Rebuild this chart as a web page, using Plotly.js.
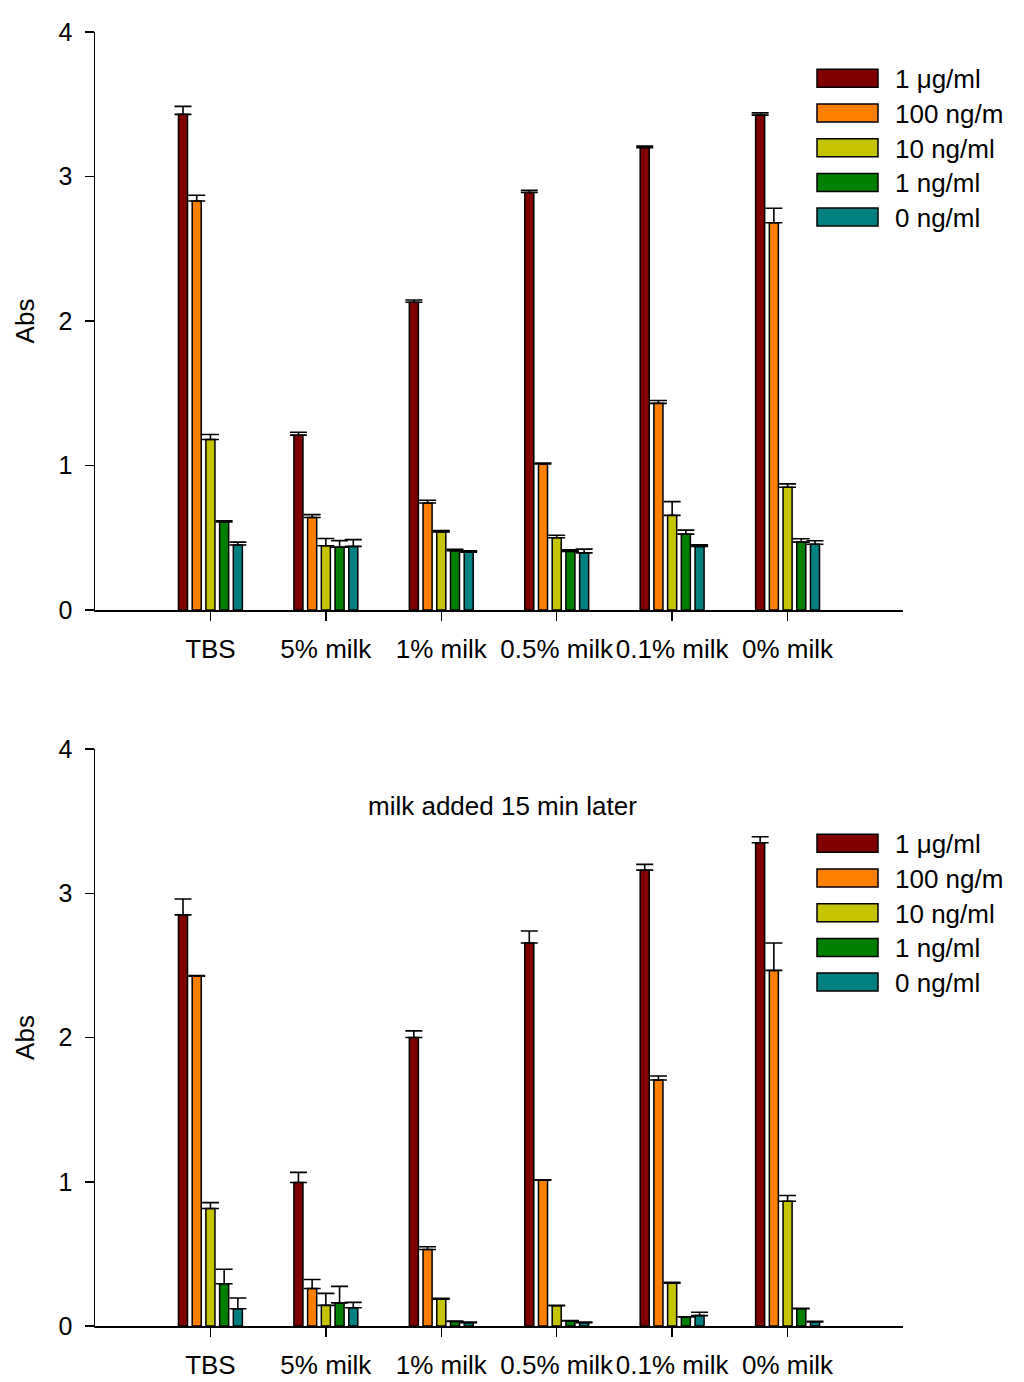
<!DOCTYPE html>
<html>
<head>
<meta charset="utf-8">
<script src="https://cdn.plot.ly/plotly-3.0.1.min.js"></script>
<style>
  html, body { margin: 0; padding: 0; background: #fff; }
  #chart { width: 1024px; height: 1382px; }
</style>
</head>
<body>
<div id="chart"></div>
<script>
// categories and series
const categories = ['TBS', '5% milk', '1% milk', '0.5% milk', '0.1% milk', '0% milk'];
const seriesNames = ['1 \u03bcg/ml', '100 ng/m', '10 ng/ml', '1 ng/ml', '0 ng/ml'];
const seriesColors = ['#800000', '#ff8000', '#c4c400', '#008000', '#008080'];

// top panel: means
const topUg1   = [3.43, 1.21, 2.13, 2.89, 3.20, 3.425];
const topNg100 = [2.83, 0.64, 0.74, 1.01, 1.43, 2.68];
const topNg10  = [1.18, 0.445, 0.54, 0.50, 0.655, 0.85];
const topNg1   = [0.61, 0.435, 0.41, 0.405, 0.525, 0.47];
const topNg0   = [0.45, 0.44, 0.40, 0.395, 0.44, 0.455];
// top panel: errors (upper only)
const topUg1Err   = [0.055, 0.02, 0.015, 0.015, 0.01, 0.015];
const topNg100Err = [0.04, 0.02, 0.02, 0.007, 0.02, 0.10];
const topNg10Err  = [0.035, 0.05, 0.01, 0.017, 0.095, 0.023];
const topNg1Err   = [0.007, 0.045, 0.01, 0.011, 0.028, 0.023];
const topNg0Err   = [0.02, 0.047, 0.009, 0.026, 0.012, 0.024];

// bottom panel: means (milk added 15 min later)
const botUg1   = [2.85, 0.995, 2.00, 2.655, 3.16, 3.35];
const botNg100 = [2.425, 0.26, 0.53, 1.01, 1.705, 2.465];
const botNg10  = [0.815, 0.143, 0.185, 0.141, 0.296, 0.865];
const botNg1   = [0.293, 0.16, 0.032, 0.035, 0.062, 0.12];
const botNg0   = [0.12, 0.127, 0.023, 0.023, 0.072, 0.028];
// bottom panel: errors (upper only)
const botUg1Err   = [0.11, 0.07, 0.046, 0.083, 0.04, 0.042];
const botNg100Err = [0.005, 0.062, 0.019, 0.004, 0.028, 0.19];
const botNg10Err  = [0.04, 0.083, 0.007, 0.002, 0.007, 0.04];
const botNg1Err   = [0.10, 0.115, 0.003, 0.002, 0.002, 0.002];
const botNg0Err   = [0.074, 0.037, 0.005, 0.005, 0.023, 0.004];

const yTicks = [0, 1, 2, 3, 4];

const topMeans = [topUg1, topNg100, topNg10, topNg1, topNg0];
const topErrs = [topUg1Err, topNg100Err, topNg10Err, topNg1Err, topNg0Err];
const botMeans = [botUg1, botNg100, botNg10, botNg1, botNg0];
const botErrs = [botUg1Err, botNg100Err, botNg10Err, botNg1Err, botNg0Err];

const FONT = "'Liberation Sans', Arial, sans-serif";

// plot area in page pixels
const PLOT = { left: 95, right: 903, top: 32, bottom: 1326 };
const W = 1024, H = 1382;
const px2x = px => (px - PLOT.left) / (PLOT.right - PLOT.left);
const px2y = py => (PLOT.bottom - py) / (PLOT.bottom - PLOT.top);

function makeTraces(means, errs, xa, ya) {
    return means.map((vals, i) => ({
        type: 'bar',
        x: categories,
        y: vals,
        name: seriesNames[i],
        xaxis: xa,
        yaxis: ya,
        showlegend: false,
        marker: { color: seriesColors[i], line: { color: '#000', width: 1.5 } },
        error_y: {
            type: 'data',
            symmetric: false,
            array: errs[i],
            arrayminus: errs[i].map(() => 0),
            color: '#000',
            thickness: 1.6,
            width: 8.5
        },
        hovertemplate: '%{x}<br>' + seriesNames[i] + ': %{y}<extra></extra>'
    }));
}

// hand-drawn legend (large swatches like the original)
function legendItems(firstRowPx) {
    const shapes = [], notes = [];
    seriesNames.forEach((name, i) => {
        const cy = firstRowPx + i * 34.7;
        shapes.push({
            type: 'rect', xref: 'paper', yref: 'paper',
            x0: px2x(817), x1: px2x(878),
            y0: px2y(cy - 9), y1: px2y(cy + 9),
            fillcolor: seriesColors[i],
            line: { color: '#000', width: 1.5 }
        });
        notes.push({
            xref: 'paper', yref: 'paper',
            x: px2x(893), y: px2y(cy + 1),
            xanchor: 'left', yanchor: 'middle',
            text: name, showarrow: false,
            font: { family: FONT, size: 26, color: '#000' }
        });
    });
    return { shapes, notes };
}

const xAxisStyle = {
    type: 'category',
    range: [-1, 6],
    showline: true, linecolor: '#000', linewidth: 1.5,
    ticks: 'outside', ticklen: 9, tickwidth: 1.5, tickcolor: '#000',
    showgrid: false, zeroline: false,
    tickangle: 0,
    tickfont: { family: FONT, size: 26, color: '#000' },
    ticklabelstandoff: 6,
    fixedrange: true
};
const yAxisStyle = {
    range: [0, 4],
    tickvals: yTicks,
    showline: true, linecolor: '#000', linewidth: 1.5,
    ticks: 'outside', ticklen: 9, tickwidth: 1.5, tickcolor: '#000',
    showgrid: false, zeroline: false,
    tickfont: { family: FONT, size: 25, color: '#000' },
    ticklabelstandoff: 7,
    title: { text: 'Abs', font: { family: FONT, size: 26, color: '#000' }, standoff: 16 },
    fixedrange: true
};

const topLegend = legendItems(78.3);
const botLegend = legendItems(843.3);

const data = [
    ...makeTraces(topMeans, topErrs, 'x', 'y'),
    ...makeTraces(botMeans, botErrs, 'x2', 'y2')
];

const layout = {
    width: W, height: H,
    margin: { l: PLOT.left, r: W - PLOT.right, t: PLOT.top, b: H - PLOT.bottom },
    paper_bgcolor: '#fff', plot_bgcolor: '#fff',
    font: { family: FONT, color: '#000' },
    barmode: 'group',
    bargap: 0.406,
    bargroupgap: 0.34,
    showlegend: false,
    xaxis: { ...xAxisStyle, domain: [0, 1], anchor: 'y' },
    yaxis: { ...yAxisStyle, domain: [px2y(610), 1], anchor: 'x' },
    xaxis2: { ...xAxisStyle, domain: [0, 1], anchor: 'y2' },
    yaxis2: { ...yAxisStyle, domain: [0, px2y(749)], anchor: 'x2' },
    shapes: [...topLegend.shapes, ...botLegend.shapes],
    annotations: [
        ...topLegend.notes,
        ...botLegend.notes,
        {
            xref: 'x2 domain', yref: 'paper',
            x: 0.504, y: px2y(806),
            xanchor: 'center', yanchor: 'middle',
            text: 'milk added 15 min later', showarrow: false,
            font: { family: FONT, size: 26, color: '#000' }
        }
    ]
};

Plotly.newPlot('chart', data, layout, { displayModeBar: false, staticPlot: true });
</script>
</body>
</html>
